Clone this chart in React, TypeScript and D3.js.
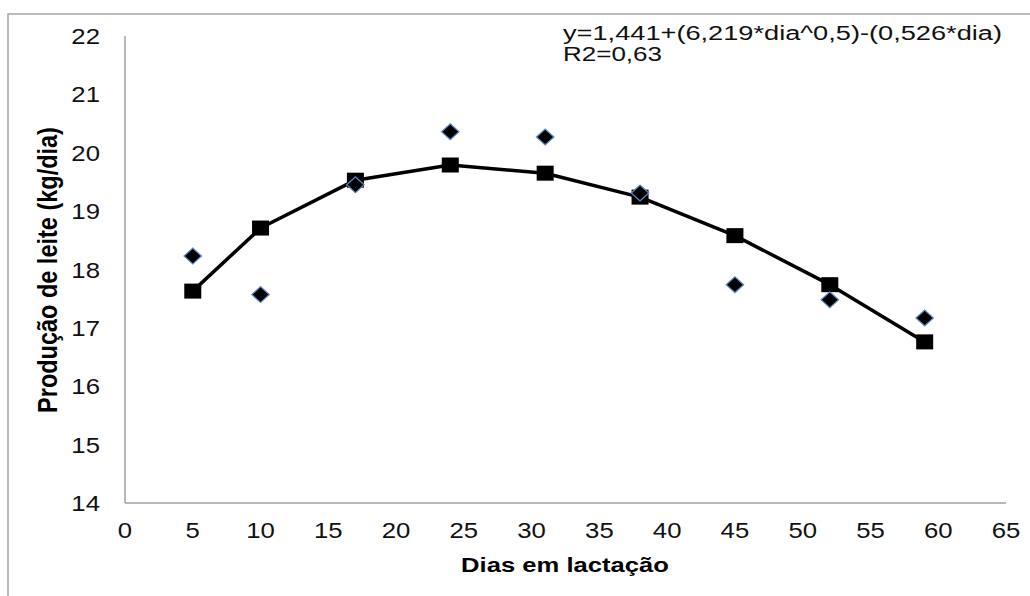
import React from 'react';
import * as d3 from 'd3';

// dias em lactação
const dias = [5, 10, 17, 24, 31, 38, 45, 52, 59];
// valores observados (losangos)
const observado = [18.23, 17.57, 19.45, 20.36, 20.27, 19.31, 17.74, 17.48, 17.17];
// valores estimados pela equação (quadrados + linha)
const estimado = [17.63, 18.71, 19.53, 19.79, 19.65, 19.24, 18.58, 17.74, 16.76];

const xTicks = [0, 5, 10, 15, 20, 25, 30, 35, 40, 45, 50, 55, 60, 65];
const yTicks = [14, 15, 16, 17, 18, 19, 20, 21, 22];

const equacao = 'y=1,441+(6,219*dia^0,5)-(0,526*dia)';
const r2 = 'R2=0,63';

const font = "'Liberation Sans', Arial, sans-serif";
const sx = 1.17; // texto um pouco esticado na horizontal

const App = () => {
  const x = d3.scaleLinear().domain([0, 65]).range([125, 1006]);
  const y = d3.scaleLinear().domain([14, 22]).range([503, 36]);

  const line = d3
    .line<number>()
    .x((d, i) => x(dias[i]))
    .y((d) => y(d));

  const diamond = d3.symbol().type(d3.symbolSquare).size(125)();

  return (
    <svg width={1030} height={596} style={{ position: 'absolute', left: 0, top: 0 }}>
      <rect x={0} y={0} width={1030} height={596} fill="#fff" />
      <rect x={8} y={14} width={1040} height={600} fill="none" stroke="#a6a6a6" strokeWidth={1.5} />

      {/* eixos */}
      <line x1={x(0)} x2={x(0)} y1={y(22)} y2={y(14)} stroke="#a0a0a0" strokeWidth={1.5} />
      <line x1={x(0)} x2={x(65)} y1={y(14)} y2={y(14)} stroke="#a0a0a0" strokeWidth={1.5} />

      {yTicks.map((t) => (
        <text
          key={`y${t}`}
          transform={`translate(100,${y(t) + 8}) scale(${sx},1)`}
          textAnchor="end"
          fontFamily={font}
          fontSize={22}
          fill="#111"
        >
          {t}
        </text>
      ))}
      {xTicks.map((t) => (
        <text
          key={`x${t}`}
          transform={`translate(${x(t)},538) scale(${sx},1)`}
          textAnchor="middle"
          fontFamily={font}
          fontSize={22}
          fill="#111"
        >
          {t}
        </text>
      ))}

      <text
        transform={`translate(565,572) scale(1.22,1)`}
        textAnchor="middle"
        fontFamily={font}
        fontSize={21}
        fontWeight="bold"
        fill="#000"
      >
        Dias em lactação
      </text>
      <text
        transform={`translate(57,270) scale(1.15,1) rotate(-90)`}
        textAnchor="middle"
        fontFamily={font}
        fontSize={23.5}
        fontWeight="bold"
        fill="#000"
      >
        Produção de leite (kg/dia)
      </text>

      {/* curva estimada */}
      <path d={line(estimado) || ''} fill="none" stroke="#000" strokeWidth={3.5} strokeLinejoin="round" />
      {estimado.map((v, i) => (
        <rect key={`s${i}`} x={x(dias[i]) - 8.5} y={y(v) - 7.5} width={17} height={15} fill="#000" />
      ))}

      {/* observados */}
      {observado.map((v, i) => (
        <path
          key={`d${i}`}
          d={diamond || ''}
          transform={`translate(${x(dias[i])},${y(v)}) scale(1.1,1) rotate(45)`}
          fill="#000"
          stroke="#5b87c5"
          strokeWidth={1.2}
        />
      ))}

      <text x={563} y={40} fontFamily={font} fontSize={20} fill="#111" textLength={439} lengthAdjust="spacingAndGlyphs">
        {equacao}
      </text>
      <text x={563} y={61} fontFamily={font} fontSize={20} fill="#111" textLength={99} lengthAdjust="spacingAndGlyphs">
        {r2}
      </text>
    </svg>
  );
};

export default App;
